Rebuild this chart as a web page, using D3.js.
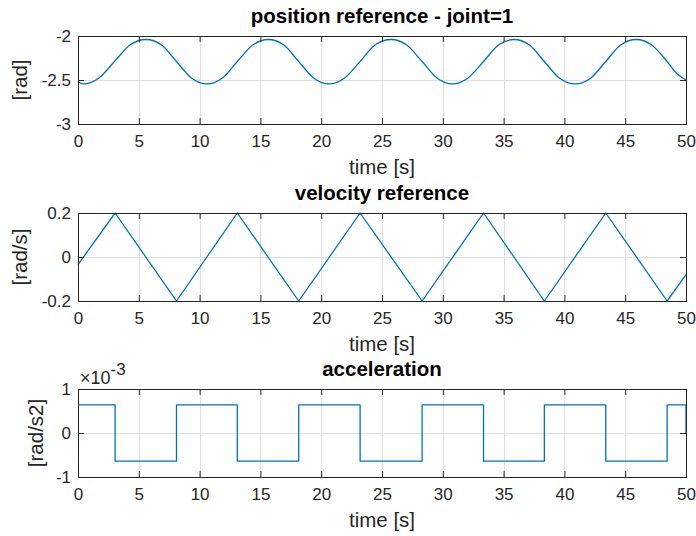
<!DOCTYPE html>
<html>
<head>
<meta charset="utf-8">
<script src="https://cdn.jsdelivr.net/npm/d3@7"></script>
<style>
  body { margin: 0; background: #ffffff; }
  svg { display: block; }
  text { font-family: "Liberation Sans", Arial, Helvetica, sans-serif; }
</style>
</head>
<body>
<script>
// Shared time axis
const timeDomain = [0, 50];
const timeTicks = [0, 5, 10, 15, 20, 25, 30, 35, 40, 45, 50];

// Joint position reference [rad]
const positionTime = [0, 0.4, 1.7, 3.0, 4.3, 5.6, 6.85, 8.1, 9.35, 10.6, 11.85, 13.1, 14.4, 15.65,
  16.9, 18.15, 19.4, 20.65, 21.9, 23.2, 24.45, 25.75, 27.0, 28.3, 29.55, 30.8, 32.05, 33.35,
  34.6, 35.85, 37.1, 38.35, 39.6, 40.9, 42.15, 43.4, 44.65, 45.9, 47.15, 48.45, 49.2, 50];
const positionValue = [-2.52, -2.545, -2.48, -2.29, -2.10, -2.04, -2.10, -2.29, -2.48, -2.545, -2.48,
  -2.29, -2.10, -2.04, -2.10, -2.29, -2.48, -2.545, -2.48, -2.29, -2.10, -2.04, -2.10, -2.29,
  -2.48, -2.545, -2.48, -2.29, -2.10, -2.04, -2.10, -2.29, -2.48, -2.545, -2.48, -2.29, -2.10,
  -2.04, -2.10, -2.29, -2.42, -2.50];
const positionTicks = [-3, -2.5, -2];

// Velocity reference [rad/s]
const velocityTime = [0, 3.05, 8.1, 13.1, 18.15, 23.2, 28.3, 33.35, 38.35, 43.4, 48.45, 50];
const velocityValue = [-0.035, 0.2, -0.2, 0.2, -0.2, 0.2, -0.2, 0.2, -0.2, 0.2, -0.2, -0.08];
const velocityTicks = [-0.2, 0, 0.2];

// Acceleration [rad/s2], held constant between switching instants
const accelTime = [0, 3.05, 8.1, 13.1, 18.15, 23.2, 28.3, 33.35, 38.35, 43.4, 48.45, 50];
const accelValue = [0.00064, -0.00064, 0.00064, -0.00064, 0.00064, -0.00064, 0.00064, -0.00064,
  0.00064, -0.00064, 0.00064, 0];
const accelTicks = [-0.001, 0, 0.001];

const W = 696, H = 536;
const plotLeft = 78, plotRight = 686, plotH = 88;
const axisColor = "#262626", gridColor = "#dfdfdf", lineColor = "#0072bd";

const panels = [
  { title: "position reference - joint=1", ylabel: "[rad]", top: 36, domain: [-3, -2],
    ticks: positionTicks, fmt: d => String(d), t: positionTime, v: positionValue,
    curve: d3.curveMonotoneX, labelX: 27 },
  { title: "velocity reference", ylabel: "[rad/s]", top: 213, domain: [-0.2, 0.2],
    ticks: velocityTicks, fmt: d => String(d), t: velocityTime, v: velocityValue,
    curve: d3.curveLinear, labelX: 27 },
  { title: "acceleration", ylabel: "[rad/s2]", top: 389, domain: [-0.001, 0.001],
    ticks: accelTicks, fmt: d => String(Math.round(d * 1000)), t: accelTime, v: accelValue,
    curve: d3.curveStepAfter, labelX: 43, exponent: true }
];

const svg = d3.select("body").append("svg").attr("width", W).attr("height", H);
const x = d3.scaleLinear().domain(timeDomain).range([plotLeft, plotRight]);
const crisp = v => Math.round(v) + 0.5;

panels.forEach(p => {
  const top = p.top, bottom = top + plotH;
  const y = d3.scaleLinear().domain(p.domain).range([bottom, top]);
  const g = svg.append("g");

  // grid
  g.append("g").selectAll("line").data(timeTicks).join("line")
    .attr("x1", d => crisp(x(d))).attr("x2", d => crisp(x(d)))
    .attr("y1", top).attr("y2", bottom)
    .attr("stroke", gridColor).attr("stroke-width", 1);
  g.append("g").selectAll("line").data(p.ticks).join("line")
    .attr("x1", plotLeft).attr("x2", plotRight)
    .attr("y1", d => crisp(y(d))).attr("y2", d => crisp(y(d)))
    .attr("stroke", gridColor).attr("stroke-width", 1);

  // data trace
  const pts = p.t.map((t, i) => [t, p.v[i]]);
  g.append("path")
    .attr("d", d3.line().x(d => x(d[0])).y(d => y(d[1])).curve(p.curve)(pts))
    .attr("fill", "none").attr("stroke", lineColor).attr("stroke-width", 1.3)
    .attr("stroke-linejoin", "round");

  // axes with inward ticks on all four sides
  const styleAxis = sel => {
    sel.select(".domain").remove();
    sel.selectAll(".tick line").attr("stroke", axisColor);
    sel.selectAll(".tick text").attr("fill", axisColor).style("font-size", "17px")
      .style("font-family", "'Liberation Sans', Arial, sans-serif");
  };
  g.append("g").attr("transform", `translate(0,${bottom})`)
    .call(d3.axisBottom(x).tickValues(timeTicks).tickSizeInner(-6).tickSizeOuter(0).tickPadding(11))
    .call(styleAxis);
  g.append("g").attr("transform", `translate(0,${top})`)
    .call(d3.axisTop(x).tickValues(timeTicks).tickSizeInner(-6).tickSizeOuter(0).tickFormat(""))
    .call(styleAxis);
  g.append("g").attr("transform", `translate(${plotLeft},0)`)
    .call(d3.axisLeft(y).tickValues(p.ticks).tickSizeInner(-6).tickSizeOuter(0).tickPadding(7).tickFormat(p.fmt))
    .call(styleAxis);
  g.append("g").attr("transform", `translate(${plotRight},0)`)
    .call(d3.axisRight(y).tickValues(p.ticks).tickSizeInner(-6).tickSizeOuter(0).tickFormat(""))
    .call(styleAxis);

  // box
  g.append("rect")
    .attr("x", crisp(plotLeft)).attr("y", crisp(top))
    .attr("width", Math.round(plotRight) - Math.round(plotLeft))
    .attr("height", plotH)
    .attr("fill", "none").attr("stroke", axisColor).attr("stroke-width", 1);

  // title
  g.append("text")
    .attr("x", (plotLeft + plotRight) / 2).attr("y", top - 13)
    .attr("text-anchor", "middle").attr("fill", "#000000")
    .style("font-size", "20.5px").style("font-weight", "bold")
    .text(p.title);

  // x label
  g.append("text")
    .attr("x", (plotLeft + plotRight) / 2).attr("y", bottom + 50)
    .attr("text-anchor", "middle").attr("fill", axisColor)
    .style("font-size", "20.5px")
    .text("time [s]");

  // y label
  g.append("text")
    .attr("transform", `translate(${p.labelX},${(top + bottom) / 2}) rotate(-90)`)
    .attr("text-anchor", "middle").attr("fill", axisColor)
    .style("font-size", "20.5px")
    .text(p.ylabel);

  // axis exponent
  if (p.exponent) {
    const e = g.append("text")
      .attr("x", plotLeft + 2).attr("y", top - 5)
      .attr("fill", axisColor).style("font-size", "18px");
    e.append("tspan").text("×10");
    e.append("tspan").attr("dy", -9).style("font-size", "17px").text("-3");
  }
});
</script>
</body>
</html>
